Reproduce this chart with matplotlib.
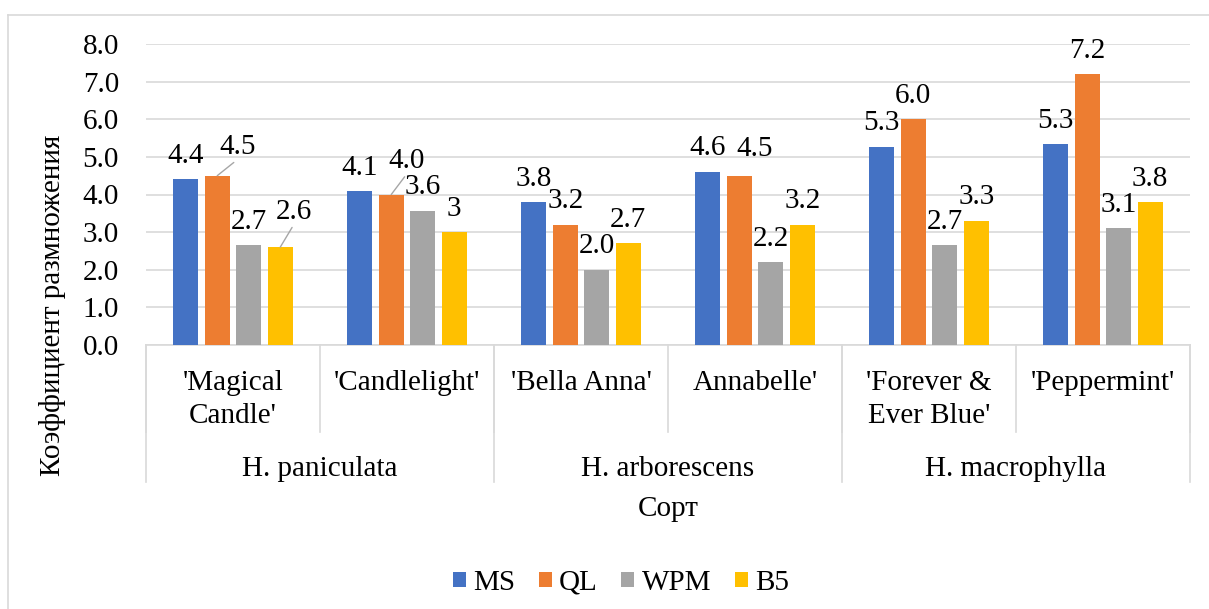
import matplotlib
matplotlib.use("Agg")
import matplotlib.pyplot as plt
from matplotlib.patches import Patch
from matplotlib.lines import Line2D
from matplotlib.transforms import blended_transform_factory
import numpy as np

# ---------------- data ----------------
varieties = ["'Magical\nCandle'", "'Candlelight'", "'Bella Anna'", "Annabelle'",
             "'Forever &\nEver Blue'", "'Peppermint'"]
species = ["H. paniculata", "H. arborescens", "H. macrophylla"]
species_span = [2, 2, 2]
series_names = ["MS", "QL", "WPM", "B5"]
ms = [4.4, 4.08, 3.8, 4.6, 5.27, 5.33]
ql = [4.5, 4.0, 3.2, 4.5, 6.0, 7.2]
wpm = [2.65, 3.57, 2.0, 2.2, 2.65, 3.1]
b5 = [2.6, 3.0, 2.7, 3.2, 3.3, 3.8]
ms_labels = ["4.4", "4.1", "3.8", "4.6", "5.3", "5.3"]
ql_labels = ["4.5", "4.0", "3.2", "4.5", "6.0", "7.2"]
wpm_labels = ["2.7", "3.6", "2.0", "2.2", "2.7", "3.1"]
b5_labels = ["2.6", "3", "2.7", "3.2", "3.3", "3.8"]
yticks = [0, 1, 2, 3, 4, 5, 6, 7, 8]
ytick_labels = ["0.0", "1.0", "2.0", "3.0", "4.0", "5.0", "6.0", "7.0", "8.0"]
xlabel = "Сорт"
ylabel = "Коэффициент размножения"

# ---------------- style ----------------
colors = ["#4472C4", "#ED7D31", "#A5A5A5", "#FFC000"]
grid_c = "#D9D9D9"
FS = 21
plt.rcParams["font.family"] = ["Liberation Serif", "DejaVu Serif"]

W, H = 1209, 609
fig = plt.figure(figsize=(W / 100, H / 100), dpi=100)
L, R, T, B = 146, 1190, 44, 345
ax = fig.add_axes([L / W, 1 - B / H, (R - L) / W, (B - T) / H])

values = [ms, ql, wpm, b5]
labels = [ms_labels, ql_labels, wpm_labels, b5_labels]
x = np.arange(len(varieties))
pitch, width = 0.181, 0.141

# label offsets in pixels (dx, dy of label centre relative to bar top, leader line)
special = {(1, 0): (20, -31.5, True), (3, 0): (13.5, -38, True),
           (1, 1): (15.5, -36, True), (1, 3): (15, -29, False)}

for j, (vals, labs) in enumerate(zip(values, labels)):
    xs = x + (j - 1.5) * pitch
    ax.bar(xs, vals, width, color=colors[j], zorder=3, label=series_names[j])
    for i, (xx, v, lab) in enumerate(zip(xs, vals, labs)):
        dx, dy, leader = special.get((j, i), (0, -26, False))
        kw = {}
        if leader:
            kw["arrowprops"] = dict(arrowstyle="-", color="#A6A6A6", lw=1.0,
                                    shrinkA=0, shrinkB=0, relpos=(0.5, 0.0))
        ax.annotate(lab, xy=(xx, v), xytext=(dx, -dy - 9.5), textcoords="offset pixels",
                    ha="center", va="baseline", fontsize=FS, color="#000000", zorder=4, **kw)

ax.set_xlim(-0.5, len(varieties) - 0.5)
ax.set_ylim(0, 8)
ax.set_yticks(yticks)
ax.set_yticklabels(ytick_labels)
ax.set_xticks([])
ax.tick_params(axis="y", length=0, pad=19.5, labelsize=FS)
ax.yaxis.grid(True, color=grid_c, lw=1.2, zorder=0)
ax.set_axisbelow(True)
for s in ["top", "right", "left"]:
    ax.spines[s].set_visible(False)
ax.spines["bottom"].set_color(grid_c)
ax.spines["bottom"].set_linewidth(1.2)

trans = blended_transform_factory(ax.transData, fig.transFigure)
ybase = 1 - B / H
# inner separators
for b in np.arange(-0.5, len(varieties), 1.0):
    ax.plot([b, b], [ybase, 1 - 432 / H], transform=trans, clip_on=False,
            color=grid_c, lw=1.2)
# group separators
edges = np.concatenate([[0], np.cumsum(species_span)]) - 0.5
for b in edges:
    ax.plot([b, b], [ybase, 1 - 482 / H], transform=trans, clip_on=False,
            color=grid_c, lw=1.2)

line_gap = 33
for i, v in enumerate(varieties):
    nlines = v.count("\n") + 1
    ybl = 390 + (nlines - 1) * line_gap
    ax.text(x[i], 1 - ybl / H, v, transform=trans, ha="center", va="baseline",
            fontsize=FS, linespacing=1.33)
for k, s in enumerate(species):
    c = (edges[k] + edges[k + 1]) / 2
    ax.text(c, 1 - 476 / H, s, transform=trans, ha="center", va="baseline", fontsize=FS)

ax.text(np.mean(x), 1 - 516 / H, xlabel, transform=trans, ha="center", va="baseline",
        fontsize=FS)
fig.text(52 / W, 1 - 305 / H, ylabel, rotation=90, ha="center", va="center", fontsize=FS)

handles = [Patch(facecolor=c, edgecolor="none") for c in colors]
fig.legend(handles, series_names, loc="center", bbox_to_anchor=(621 / W, 1 - 583 / H),
           ncol=4, frameon=False, fontsize=FS, handlelength=0.45, handleheight=0.45,
           handletextpad=0.25, columnspacing=0.8, borderaxespad=0, borderpad=0)

# chart border (left and top edges visible)
fig.add_artist(Line2D([8 / W, 8 / W], [1 - 15 / H, 0], color=grid_c, lw=1.2,
                      transform=fig.transFigure))
fig.add_artist(Line2D([8 / W, 1], [1 - 15 / H, 1 - 15 / H], color=grid_c, lw=1.2,
                      transform=fig.transFigure))

fig.savefig("out.png", dpi=100, facecolor="white")
